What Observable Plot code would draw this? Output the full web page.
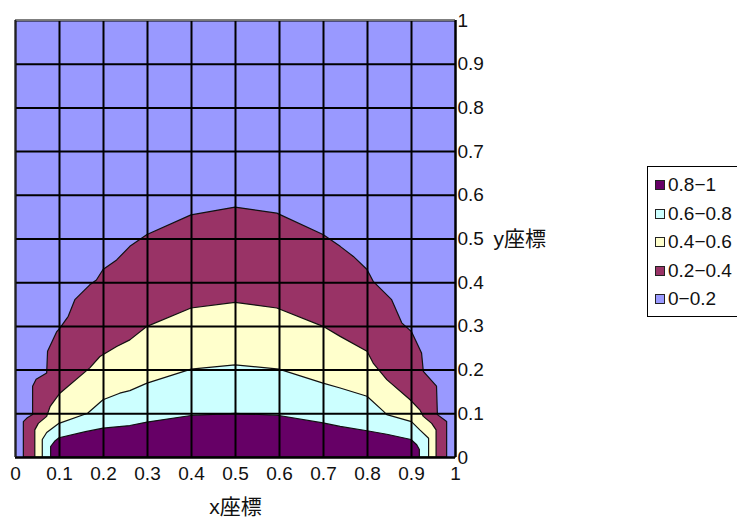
<!DOCTYPE html>
<html>
<head>
<meta charset="utf-8">
<script src="https://cdn.jsdelivr.net/npm/d3@7"></script>
<script src="https://cdn.jsdelivr.net/npm/@observablehq/plot@0.6"></script>
<style>
  html, body { margin: 0; padding: 0; background: #fff; overflow: hidden; }
  #chart { position: relative; width: 737px; height: 522px; }
  #chart g[aria-label$="tick label"] text { font-size: 19px; fill: #111; }
  #legend {
    position: absolute; left: 647px; top: 166px; width: 110px; height: 151px;
    border: 1px solid #000; box-sizing: border-box; background: #fff;
    font-family: "Liberation Sans", "Noto Sans CJK JP", sans-serif; font-size: 19px; color: #111;
    padding-top: 4px;
  }
  .row { display: flex; align-items: center; height: 28.5px; }
  .sw { width: 8px; height: 8px; border: 1px solid #222; margin-left: 7px; margin-right: 3px; }
</style>
</head>
<body>
<div id="chart"></div>
<script>
// Contour bands (value ranges) and their fills
const bandLabels = ["0.8−1", "0.6−0.8", "0.4−0.6", "0.2−0.4", "0−0.2"];
const bandColors = ["#660066", "#CCFFFF", "#FFFFCC", "#993366", "#9999FF"];

// Axis ticks
const tickValues = [0, 0.1, 0.2, 0.3, 0.4, 0.5, 0.6, 0.7, 0.8, 0.9, 1];
const tickLabels = ["0", "0.1", "0.2", "0.3", "0.4", "0.5", "0.6", "0.7", "0.8", "0.9", "1"];

// Isoline z = 0.2 (upper edge of the 0.2–0.4 band)
const iso02x = [0.019,0.019,0.027,0.040,0.040,0.048,0.072,0.074,0.095,0.102,0.121,0.136,0.170,0.185,0.200,0.231,0.261,0.300,0.400,0.500,0.595,0.700,0.739,0.769,0.800,0.814,0.856,0.879,0.901,0.924,0.928,0.958,0.960,0.981,0.981];
const iso02y = [0,0.081,0.089,0.097,0.162,0.178,0.192,0.242,0.287,0.295,0.322,0.360,0.394,0.405,0.429,0.451,0.482,0.509,0.554,0.572,0.558,0.509,0.482,0.459,0.429,0.402,0.360,0.307,0.287,0.238,0.196,0.162,0.097,0.081,0];

// Isoline z = 0.4
const iso04x = [0.045,0.045,0.053,0.072,0.080,0.102,0.170,0.193,0.231,0.261,0.300,0.400,0.500,0.595,0.700,0.739,0.800,0.814,0.845,0.898,0.920,0.928,0.947,0.957,0.957];
const iso04y = [0,0.062,0.077,0.093,0.116,0.146,0.204,0.230,0.253,0.268,0.299,0.341,0.354,0.341,0.299,0.276,0.242,0.215,0.177,0.131,0.108,0.093,0.077,0.062,0];

// Isoline z = 0.6
const iso06x = [0.062,0.062,0.072,0.100,0.165,0.200,0.238,0.261,0.300,0.400,0.500,0.600,0.700,0.739,0.800,0.837,0.845,0.901,0.920,0.940,0.940];
const iso06y = [0,0.040,0.056,0.077,0.100,0.131,0.146,0.152,0.169,0.201,0.211,0.201,0.169,0.158,0.139,0.105,0.097,0.081,0.062,0.043,0];

// Isoline z = 0.8
const iso08x = [0.081,0.081,0.090,0.100,0.160,0.200,0.261,0.300,0.400,0.500,0.600,0.700,0.739,0.800,0.845,0.900,0.913,0.919,0.919];
const iso08y = [0,0.024,0.036,0.044,0.058,0.066,0.072,0.080,0.095,0.100,0.095,0.078,0.070,0.060,0.052,0.040,0.028,0.017,0];

const toPts = (xs, ys) => xs.map((x, i) => ({x, y: ys[i]}));
const bands = [
  {pts: toPts(iso02x, iso02y), fill: bandColors[3]},
  {pts: toPts(iso04x, iso04y), fill: bandColors[2]},
  {pts: toPts(iso06x, iso06y), fill: bandColors[1]},
  {pts: toPts(iso08x, iso08y), fill: bandColors[0]}
];

const fmt = d => tickLabels[tickValues.findIndex(t => Math.abs(t - d) < 1e-9)];
const font = "'Liberation Sans', 'Noto Sans CJK JP', sans-serif";

const chart = Plot.plot({
  width: 737,
  height: 522,
  marginLeft: 15,
  marginTop: 20,
  marginRight: 282,
  marginBottom: 65,
  style: {fontFamily: font, fontSize: "19px", color: "#111", background: "#fff", overflow: "visible"},
  x: {domain: [0, 1]},
  y: {domain: [0, 1]},
  marks: [
    Plot.frame({fill: bandColors[4]}),
    ...bands.map(b => Plot.areaY(b.pts, {x: "x", y1: 0, y2: "y", fill: b.fill, stroke: "#111", strokeWidth: 1.2})),
    Plot.gridX(tickValues, {stroke: "#000", strokeOpacity: 1, strokeWidth: 2}),
    Plot.gridY(tickValues, {stroke: "#000", strokeOpacity: 1, strokeWidth: 2}),
    Plot.frame({stroke: "#777", strokeWidth: 1}),
    Plot.ruleX([1], {stroke: "#000", strokeWidth: 2}),
    Plot.ruleY([0], {stroke: "#000", strokeWidth: 2}),
    Plot.ruleX([0], {stroke: "#222", strokeWidth: 1.5}),
    Plot.axisY(tickValues, {anchor: "right", tickSize: 0, tickPadding: 2, tickFormat: fmt, label: null}),
    Plot.axisX(tickValues, {anchor: "bottom", tickSize: 0, tickPadding: 9, tickFormat: fmt, label: null}),
    Plot.text(["y座標"], {frameAnchor: "right", dx: 38, textAnchor: "start", fontSize: 21, fill: "#111"}),
    Plot.text(["x座標"], {frameAnchor: "bottom", dy: 56, fontSize: 21, fill: "#111"})
  ]
});
document.getElementById("chart").appendChild(chart);

// Legend
const legend = document.createElement("div");
legend.id = "legend";
bandLabels.forEach((label, i) => {
  const row = document.createElement("div");
  row.className = "row";
  const sw = document.createElement("span");
  sw.className = "sw";
  sw.style.background = bandColors[i];
  const tx = document.createElement("span");
  tx.textContent = label;
  row.appendChild(sw);
  row.appendChild(tx);
  legend.appendChild(row);
});
document.getElementById("chart").appendChild(legend);
</script>
</body>
</html>
